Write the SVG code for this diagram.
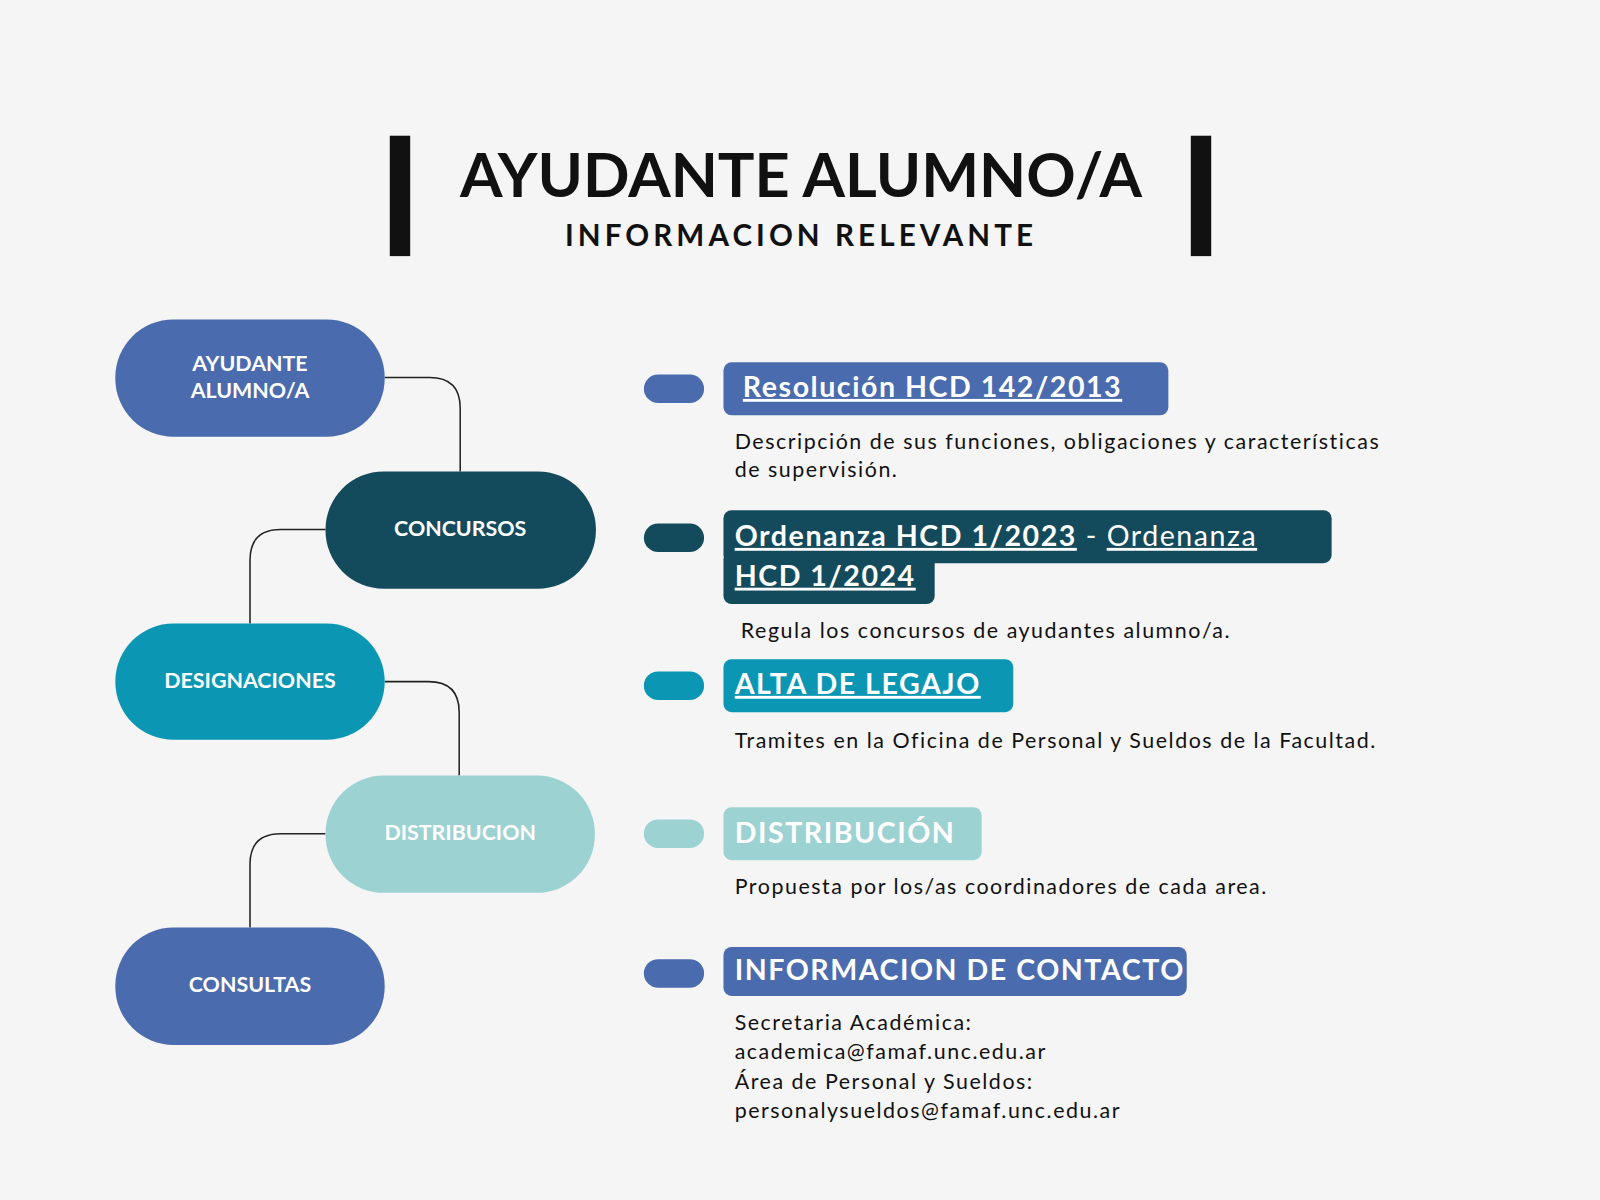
<svg xmlns="http://www.w3.org/2000/svg" width="1600" height="1200" viewBox="0 0 1600 1200">
<style>
.nt{font-family:"Lato","Liberation Sans",sans-serif;font-weight:700;font-size:21px;fill:#fff;text-anchor:middle}
.lb{font-family:"Lato","Liberation Sans",sans-serif;font-weight:700;font-size:28px;fill:#fff;letter-spacing:1.5px}
.ds{font-family:"Lato","Liberation Sans",sans-serif;font-size:21px;fill:#111;letter-spacing:1.5px}
.cn{fill:none;stroke:#222;stroke-width:1.5}
</style>
<rect width="1600" height="1200" fill="#f5f5f5"/>
<g transform="scale(1.0204)">
<g id="title">
<rect x="382" y="133" width="20" height="118" fill="#111"/>
<rect x="1167" y="133" width="20" height="118" fill="#111"/>
<text x="785" y="193" text-anchor="middle" font-family="Lato,'Liberation Sans',sans-serif" font-weight="700" font-size="60" fill="#111">AYUDANTE ALUMNO/A</text>
<text x="785" y="241" text-anchor="middle" font-family="Lato,'Liberation Sans',sans-serif" font-weight="700" font-size="29" letter-spacing="4" fill="#111">INFORMACION RELEVANTE</text>
</g>
<g id="connectors">
<path class="cn" d="M377 370 H421 Q451 370 451 400 V462"/>
<path class="cn" d="M319 519 H275 Q245 519 245 549 V611"/>
<path class="cn" d="M377 668 H420 Q450 668 450 698 V760"/>
<path class="cn" d="M319 817 H275 Q245 817 245 847 V909"/>
</g>
<g id="n1"><rect x="113" y="313" width="264" height="115" rx="57" fill="#4a6bae"/><text class="nt" x="245" y="364">AYUDANTE</text><text class="nt" x="245" y="390">ALUMNO/A</text></g>
<g id="n2"><rect x="319" y="462" width="265" height="115" rx="57" fill="#134b5c"/><text class="nt" x="451" y="525">CONCURSOS</text></g>
<g id="n3"><rect x="113" y="611" width="264" height="114" rx="57" fill="#0b97b3"/><text class="nt" x="245" y="674">DESIGNACIONES</text></g>
<g id="n4"><rect x="319" y="760" width="264" height="115" rx="57" fill="#9dd2d3"/><text class="nt" x="451" y="823">DISTRIBUCION</text></g>
<g id="n5"><rect x="113" y="909" width="264" height="115" rx="57" fill="#4a6bae"/><text class="nt" x="245" y="972">CONSULTAS</text></g>
<g id="i1"><rect x="631" y="367" width="59" height="28" rx="14" fill="#4a6bae"/><rect x="709" y="355" width="436" height="52" rx="8" fill="#4a6bae"/><text class="lb" x="728" y="389" text-decoration="underline">Resolución HCD 142/2013</text>
<text class="ds" x="720" y="440">Descripción de sus funciones, obligaciones y características</text><text class="ds" x="720" y="467">de supervisión.</text></g>
<g id="i2"><rect x="631" y="513" width="59" height="28" rx="14" fill="#134b5c"/><rect x="709" y="500" width="596" height="52" rx="8" fill="#134b5c"/><rect x="709" y="540" width="207" height="52" rx="8" fill="#134b5c"/>
<text class="lb" x="720" y="535"><tspan text-decoration="underline">Ordenanza HCD 1/2023</tspan><tspan font-weight="400"> - </tspan><tspan font-weight="400" text-decoration="underline">Ordenanza</tspan></text>
<text class="lb" x="720" y="574" font-weight="400" text-decoration="underline">HCD 1/2024</text>
<text class="ds" x="726" y="625">Regula los concursos de ayudantes alumno/a.</text></g>
<g id="i3"><rect x="631" y="658" width="59" height="28" rx="14" fill="#0b97b3"/><rect x="709" y="646" width="284" height="52" rx="8" fill="#0b97b3"/><text class="lb" x="720" y="680" text-decoration="underline">ALTA DE LEGAJO</text>
<text class="ds" x="720" y="733">Tramites en la Oficina de Personal y Sueldos de la Facultad.</text></g>
<g id="i4"><rect x="631" y="803" width="59" height="28" rx="14" fill="#9dd2d3"/><rect x="709" y="791" width="253" height="52" rx="8" fill="#9dd2d3"/><text class="lb" x="720" y="826">DISTRIBUCIÓN</text>
<text class="ds" x="720" y="876">Propuesta por los/as coordinadores de cada area.</text></g>
<g id="i5"><rect x="631" y="940" width="59" height="28" rx="14" fill="#4a6bae"/><rect x="709" y="928" width="454" height="48" rx="8" fill="#4a6bae"/><text class="lb" x="720" y="960" font-size="26">INFORMACION DE CONTACTO</text>
<text class="ds" x="720" y="1009" font-size="22">Secretaria Académica:</text><text class="ds" x="720" y="1038" font-size="22">academica@famaf.unc.edu.ar</text><text class="ds" x="720" y="1067" font-size="22">Área de Personal y Sueldos:</text><text class="ds" x="720" y="1096" font-size="22">personalysueldos@famaf.unc.edu.ar</text></g>
</g>
</svg>
